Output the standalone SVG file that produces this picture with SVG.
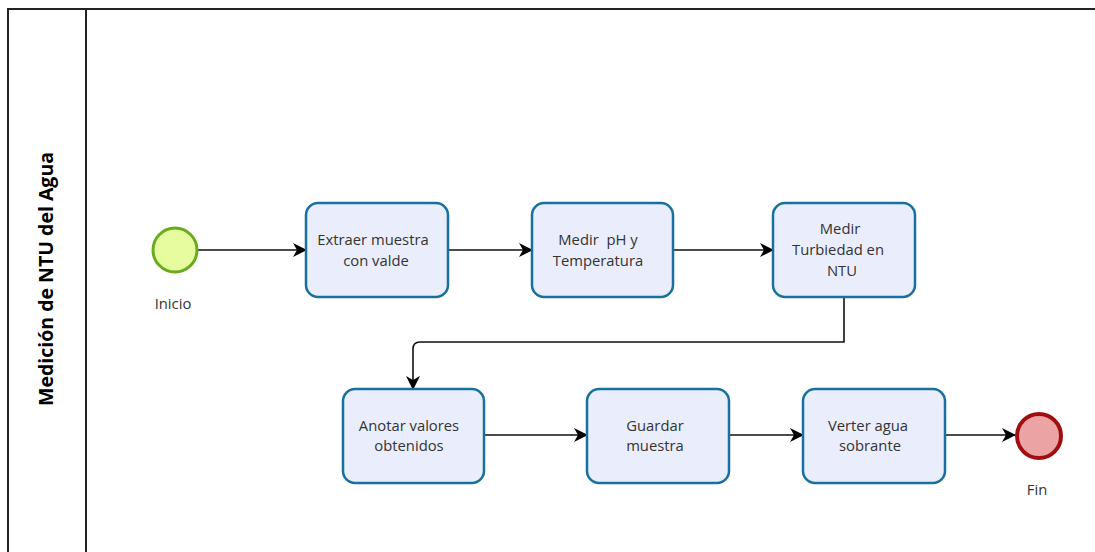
<svg xmlns="http://www.w3.org/2000/svg" width="1095" height="552" viewBox="0 0 1095 552">
<style>
.lane{fill:none;stroke:#222;stroke-width:2}
.task{fill:#EAEEFC;stroke:#17709F;stroke-width:2.5}
.t{font-family:"Open Sans","DejaVu Sans",sans-serif;font-size:14.8px;fill:#333;text-anchor:middle;white-space:pre}
.conn{fill:none;stroke:#111;stroke-width:1.6}
.title{font-family:"Open Sans","DejaVu Sans",sans-serif;font-size:19.5px;font-weight:bold;fill:#000;text-anchor:middle}
</style>
<defs>
<marker id="arr" viewBox="0 0 14 14" refX="13" refY="7" markerWidth="14" markerHeight="14" markerUnits="userSpaceOnUse" orient="auto">
<path d="M0,0 L14,7 L0,14 L4,7 Z" fill="#000"/>
</marker>
</defs>
<rect width="1095" height="552" fill="#fff"/>
<g id="pool">
<path class="lane" d="M8,552 V9 H1095"/>
<line class="lane" x1="86" y1="9" x2="86" y2="552"/>
<text class="title" transform="translate(53,279) rotate(-90)">Medición de NTU del Agua</text>
</g>
<g id="connectors">
<line class="conn" x1="198" y1="250" x2="306" y2="250" marker-end="url(#arr)"/>
<line class="conn" x1="448" y1="250" x2="532" y2="250" marker-end="url(#arr)"/>
<line class="conn" x1="673" y1="250" x2="773" y2="250" marker-end="url(#arr)"/>
<path class="conn" d="M844,297 V342 H420 Q413,342 413,349 V389" marker-end="url(#arr)"/>
<line class="conn" x1="484" y1="435" x2="587" y2="435" marker-end="url(#arr)"/>
<line class="conn" x1="729" y1="435" x2="803" y2="435" marker-end="url(#arr)"/>
<line class="conn" x1="945" y1="435" x2="1015" y2="435" marker-end="url(#arr)"/>
</g>
<g id="start">
<circle cx="175" cy="250" r="22" fill="#E6FC9F" stroke="#6AAA1F" stroke-width="3"/>
<text class="t" x="173" y="309">Inicio</text>
</g>
<g id="task1">
<rect class="task" x="306" y="203" width="142" height="94" rx="12"/>
<text class="t" x="373" y="245">Extraer muestra</text>
<text class="t" x="376" y="266">con valde</text>
</g>
<g id="task2">
<rect class="task" x="532" y="203" width="141" height="94" rx="12"/>
<text class="t" x="598" y="245" xml:space="preserve">Medir  pH y</text>
<text class="t" x="598" y="266">Temperatura</text>
</g>
<g id="task3">
<rect class="task" x="773" y="203" width="142" height="94" rx="12"/>
<text class="t" x="840" y="234">Medir</text>
<text class="t" x="838" y="255">Turbiedad en</text>
<text class="t" x="842" y="276">NTU</text>
</g>
<g id="task4">
<rect class="task" x="343" y="389" width="141" height="94" rx="12"/>
<text class="t" x="409" y="431">Anotar valores</text>
<text class="t" x="409" y="451">obtenidos</text>
</g>
<g id="task5">
<rect class="task" x="587" y="389" width="142" height="94" rx="12"/>
<text class="t" x="655" y="431">Guardar</text>
<text class="t" x="655" y="451">muestra</text>
</g>
<g id="task6">
<rect class="task" x="803" y="389" width="142" height="94" rx="12"/>
<text class="t" x="868" y="431">Verter agua</text>
<text class="t" x="870" y="451">sobrante</text>
</g>
<g id="end">
<circle cx="1039" cy="436" r="22" fill="#EBA3A3" stroke="#A10E11" stroke-width="4"/>
<text class="t" x="1037" y="495">Fin</text>
</g>
</svg>
